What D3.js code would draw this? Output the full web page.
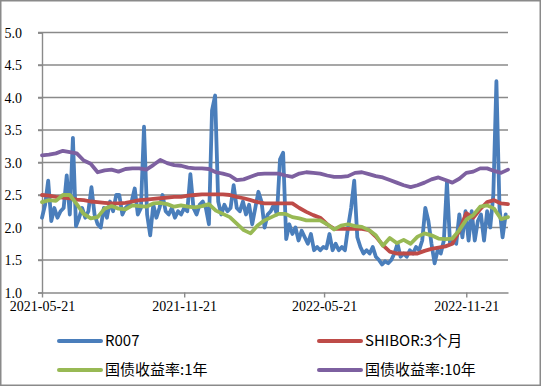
<!DOCTYPE html>
<html>
<head>
<meta charset="utf-8">
<script src="https://cdn.jsdelivr.net/npm/d3@7.9.0/dist/d3.min.js"></script>
<style>
  html, body { margin: 0; padding: 0; background: #fff; }
  svg { display: block; }
</style>
</head>
<body>
<svg id="chart" width="541" height="386"></svg>
<script>
// sampling: R007 every 4 days, the others every 9 days, from 2021-05-21
const startDate = '2021-05-21';
const endDate = '2023-01-14';
const r007Step = 4;
const smoothStep = 9;

const r007 = [
  2.15, 2.35, 2.72, 2.10, 2.30, 2.15, 2.25, 2.30, 2.80, 2.20,
  3.38, 2.02, 2.15, 2.30, 2.15, 2.25, 2.62, 2.20, 2.05, 2.00,
  2.30, 2.15, 2.40, 2.25, 2.50, 2.50, 2.20, 2.30, 2.35, 2.40,
  2.60, 2.20, 2.30, 3.55, 2.20, 1.88, 2.35, 2.15, 2.30, 2.50,
  2.25, 2.20, 2.30, 2.15, 2.25, 2.20, 2.30, 2.25, 2.82, 2.30,
  2.20, 2.35, 2.40, 2.30, 2.05, 3.80, 4.03, 2.40, 2.20, 2.35,
  2.25, 2.30, 2.65, 2.30, 2.25, 2.40, 2.20, 2.35, 2.05, 2.30,
  2.55, 2.40, 2.00, 2.20, 2.25, 2.35, 2.20, 3.05, 3.15, 1.82,
  2.05, 1.90, 2.00, 1.80, 1.95, 1.85, 1.75, 1.90, 1.65, 1.70,
  1.65, 1.70, 1.68, 1.90, 1.65, 1.75, 1.65, 1.70, 1.65, 2.00,
  2.30, 2.72, 1.85, 1.70, 1.60, 1.65, 1.60, 1.70, 1.55, 1.50,
  1.43, 1.48, 1.45, 1.50, 1.60, 1.75, 1.55, 1.60, 1.55, 1.65,
  1.60, 1.70, 1.65, 1.80, 2.30, 2.10, 1.75, 1.45, 1.65, 1.60,
  1.80, 2.70, 1.75, 1.80, 1.75, 2.20, 1.85, 2.25, 1.80, 2.25,
  1.80, 2.10, 2.20, 1.80, 2.25, 2.00, 2.50, 4.25, 2.30, 1.85,
  2.20
];

const shibor3m = [
  2.50, 2.49, 2.47, 2.46, 2.45, 2.43, 2.42, 2.40, 2.39, 2.38,
  2.37, 2.37, 2.38, 2.40, 2.42, 2.43, 2.44, 2.45, 2.46, 2.47,
  2.47, 2.49, 2.50, 2.51, 2.51, 2.51, 2.51, 2.50, 2.47, 2.45,
  2.42, 2.39, 2.37, 2.37, 2.37, 2.37, 2.37, 2.30, 2.24, 2.19,
  2.15, 2.05, 1.98, 1.98, 1.98, 1.98, 1.98, 1.96, 1.86, 1.73,
  1.63, 1.60, 1.60, 1.60, 1.60, 1.64, 1.67, 1.69, 1.71, 1.75,
  1.95, 2.22, 2.15, 2.28, 2.39, 2.42, 2.37, 2.36
];

const gov1y = [
  2.39, 2.42, 2.41, 2.50, 2.50, 2.36, 2.21, 2.14, 2.16, 2.29,
  2.33, 2.29, 2.28, 2.34, 2.33, 2.32, 2.37, 2.38, 2.36, 2.32,
  2.34, 2.32, 2.31, 2.33, 2.36, 2.26, 2.21, 2.16, 2.06, 1.96,
  1.91, 2.03, 2.11, 2.16, 2.21, 2.21, 2.16, 2.14, 2.11, 2.11,
  2.11, 2.05, 1.97, 2.03, 2.05, 2.02, 2.01, 1.96, 1.88, 1.72,
  1.84, 1.76, 1.81, 1.75, 1.86, 1.91, 1.88, 1.83, 1.82, 1.83,
  1.96, 2.12, 2.19, 2.32, 2.34, 2.29, 2.13, 2.16
];

const gov10y = [
  3.11, 3.12, 3.14, 3.18, 3.16, 3.14, 3.03, 2.98, 2.85, 2.88,
  2.89, 2.86, 2.90, 2.91, 2.91, 2.89, 2.96, 3.04, 2.99, 2.96,
  2.95, 2.92, 2.91, 2.91, 2.90, 2.85, 2.83, 2.80, 2.73, 2.74,
  2.78, 2.82, 2.83, 2.83, 2.83, 2.80, 2.78, 2.83, 2.85, 2.84,
  2.83, 2.80, 2.78, 2.78, 2.79, 2.84, 2.85, 2.82, 2.79, 2.77,
  2.73, 2.69, 2.65, 2.62, 2.65, 2.69, 2.74, 2.77, 2.73, 2.69,
  2.75, 2.84, 2.86, 2.91, 2.91, 2.87, 2.84, 2.89
];

const seriesNames = ['R007', 'SHIBOR:3个月', '国债收益率:1年', '国债收益率:10年'];
const seriesColors = ['#4a7ebb', '#be4b48', '#98b954', '#7d60a0'];
const xTickLabels = ['2021-05-21', '2021-11-21', '2022-05-21', '2022-11-21'];
const yTicks = [1.0, 1.5, 2.0, 2.5, 3.0, 3.5, 4.0, 4.5, 5.0];

const serif = '"Liberation Serif", "Times New Roman", serif';
const sans = '"Noto Sans CJK SC", "Noto Sans", sans-serif';
const gridColor = '#8a8a8a';

const parse = d3.utcParse('%Y-%m-%d');
const t0 = parse(startDate);

function toPoints(values, step) {
  return values.map((v, i) => ({ date: d3.utcDay.offset(t0, i * step), value: v }));
}

const series = [
  toPoints(r007, r007Step),
  toPoints(shibor3m, smoothStep),
  toPoints(gov1y, smoothStep),
  toPoints(gov10y, smoothStep)
];

const svg = d3.select('#chart');
const W = 541, H = 386;
const plotLeft = 42, plotRight = 508, plotTop = 32.5, plotBottom = 292.5;

// outer frame
svg.append('rect')
  .attr('x', 0.75).attr('y', 0.75)
  .attr('width', W - 1.5).attr('height', H - 1.5)
  .attr('fill', '#fff')
  .attr('stroke', gridColor)
  .attr('stroke-width', 1.5);

const x = d3.scaleUtc().domain([t0, parse(endDate)]).range([plotLeft, plotRight]);
const y = d3.scaleLinear().domain([1, 5]).range([plotBottom, plotTop]);

// gridlines
svg.append('g')
  .selectAll('line')
  .data(yTicks.slice(1))
  .join('line')
  .attr('x1', plotLeft - 4).attr('x2', plotRight)
  .attr('y1', d => y(d)).attr('y2', d => y(d))
  .attr('stroke', gridColor)
  .attr('stroke-width', 1.4);

// y axis
const yAxis = svg.append('g')
  .attr('transform', `translate(${plotLeft},0)`)
  .call(d3.axisLeft(y).tickValues(yTicks).tickFormat(d3.format('.1f')).tickSize(4).tickPadding(16));
yAxis.attr('font-family', serif).attr('font-size', 14);
yAxis.select('.domain').attr('stroke', gridColor).attr('stroke-width', 1.4);
yAxis.selectAll('.tick line').attr('stroke', gridColor).attr('stroke-width', 1.4);
yAxis.selectAll('.tick text').attr('fill', '#000').attr('dy', '0.35em');

// x axis
const xAxis = svg.append('g')
  .attr('transform', `translate(0,${plotBottom})`)
  .call(d3.axisBottom(x).tickValues(xTickLabels.map(parse)).tickFormat(d3.utcFormat('%Y-%m-%d')).tickSize(5).tickPadding(4).tickSizeOuter(0));
xAxis.attr('font-family', serif).attr('font-size', 14);
xAxis.select('.domain').attr('stroke', gridColor).attr('stroke-width', 1.4);
xAxis.selectAll('.tick line').attr('stroke', gridColor).attr('stroke-width', 1.4);
xAxis.selectAll('.tick text').attr('fill', '#000');

// lines
const line = d3.line().x(d => x(d.date)).y(d => y(d.value));
series.forEach((pts, i) => {
  svg.append('path')
    .datum(pts)
    .attr('d', line)
    .attr('fill', 'none')
    .attr('stroke', seriesColors[i])
    .attr('stroke-width', 3.8)
    .attr('stroke-linejoin', 'round')
    .attr('stroke-linecap', 'round');
});

// legend
const legendPos = [[59, 341], [319, 341], [59, 370], [319, 370]];
const legend = svg.append('g').attr('font-family', sans).attr('font-size', 15);
seriesNames.forEach((name, i) => {
  const [lx, ly] = legendPos[i];
  legend.append('line')
    .attr('x1', lx).attr('x2', lx + 42)
    .attr('y1', ly).attr('y2', ly)
    .attr('stroke', seriesColors[i])
    .attr('stroke-width', 4)
    .attr('stroke-linecap', 'round');
  legend.append('text')
    .attr('x', lx + 46).attr('y', ly)
    .attr('dy', '0.36em')
    .attr('fill', '#000')
    .text(name);
});
</script>
</body>
</html>
